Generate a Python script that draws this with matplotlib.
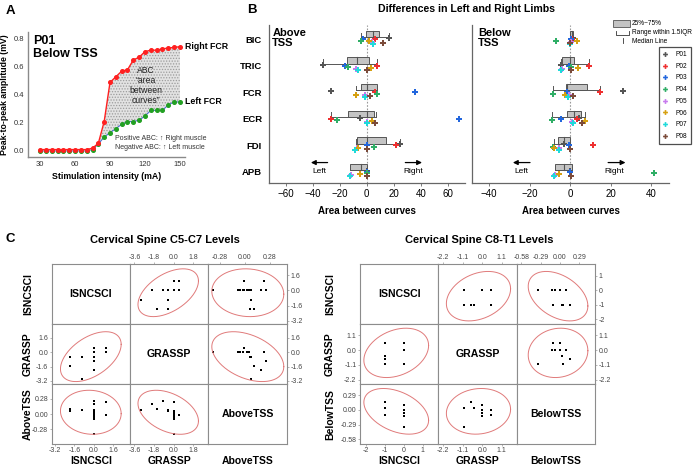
import numpy as np
import matplotlib
matplotlib.use('Agg')
import matplotlib.pyplot as plt
from matplotlib.patches import Rectangle
from matplotlib.lines import Line2D

plt.rcParams['font.family'] = ['Liberation Sans', 'DejaVu Sans']
plt.rcParams['hatch.linewidth'] = 0.6

# ---------------- Panel A data ----------------
stim_ma = [30, 35, 40, 45, 50, 55, 60, 65, 70, 75, 80, 85, 90, 95, 100, 105,
           110, 115, 120, 125, 130, 135, 140, 145, 150]
right_fcr = [0.01, 0.01, 0.01, 0.01, 0.01, 0.01, 0.01, 0.01, 0.01, 0.02, 0.055,
             0.21, 0.49, 0.53, 0.57, 0.58, 0.65, 0.67, 0.71, 0.72, 0.72, 0.73,
             0.735, 0.74, 0.745]
left_fcr = [0.0, 0.0, 0.0, 0.0, 0.0, 0.0, 0.0, 0.0, 0.0, 0.01, 0.05, 0.10, 0.13,
            0.16, 0.19, 0.21, 0.21, 0.22, 0.25, 0.29, 0.29, 0.29, 0.33, 0.35, 0.35]

# ---------------- Panel B data ----------------
muscles = ['BIC', 'TRIC', 'FCR', 'ECR', 'FDI', 'APB']
participants = ['P01', 'P02', 'P03', 'P04', 'P05', 'P06', 'P07', 'P08']
# values per muscle, ordered P01..P08
above_BIC = [16.8, 6.4, -2.5, -4.5, 3.7, 1.5, 4.4, 11.8]
above_TRIC = [-32.3, 7.9, -16.3, -14.3, -7.9, 3.0, -6.4, 0.0]
above_FCR = [-26.4, 6.4, 35.8, 7.4, -1.0, -7.7, -1.0, 2.2]
above_ECR = [-4.9, -26.4, 68.4, -22.0, 0.0, 4.0, 0.0, 6.2]
above_FDI = [24.4, 21.7, 0.5, 5.7, -6.9, -6.2, -8.4, 0.0]
above_APB = [0.0, 0.0, 0.5, 0.0, -11.9, -4.9, -12.3, 0.5]
below_BIC = [1.2, 0.8, 0.3, -7.1, 0.4, 3.6, 0.1, 0.0]
below_TRIC = [-4.6, 9.2, -0.7, 0.3, -3.8, 3.8, -4.4, 0.2]
below_FCR = [25.9, 14.8, -1.6, -8.5, -0.7, -2.3, -1.0, 1.3]
below_ECR = [4.6, 3.3, -4.6, -8.9, 1.0, 7.6, 1.5, 5.7]
below_FDI = [-2.8, 11.3, -0.7, -8.2, -5.3, -8.0, -5.3, 0.0]
below_APB = [0.0, 0.0, 0.0, 41.5, -7.6, -5.6, -7.7, 0.3]
# box statistics (BIC..APB)
above_q1 = [-0.5, -15.0, -4.2, -13.6, -6.9, -12.3]
above_med = [4.5, -7.0, 0.5, 0.5, 0.5, -4.4]
above_q3 = [9.4, 1.7, 7.4, 5.7, 14.0, 0.5]
above_wlo = [-4.5, -32.3, -7.7, -26.4, -7.9, -12.3]
above_whi = [16.8, 7.9, 7.4, 6.7, 24.4, 0.5]
below_q1 = [0.0, -4.1, -2.0, -1.6, -6.2, -7.4]
below_med = [0.7, 0.0, -1.3, 2.1, -2.8, -3.0]
below_q3 = [1.6, 2.1, 8.4, 5.4, 0.0, 0.8]
below_wlo = [0.0, -4.6, -8.5, -8.9, -8.0, -7.6]
below_whi = [1.6, 9.2, 14.8, 7.6, 0.0, 0.8]

# ---------------- Panel C data ----------------
c57_names = ['ISNCSCI', 'GRASSP', 'AboveTSS']
c57_isncsci = [0, 0, 0, 0, 0, 0, 1, 1, 0, -2, -2, -1, 0, 0, 0, -1]
c57_grassp = [0, 0, 0, 0, 0, 0, 0, 0.5, 0.5, -0.5, -1.5, -3, -2, -1, -0.5, -0.5]
c57_above = [-0.36, -0.08, -0.05, -0.02, 0.03, 0.05, 0.22, -0.01, -0.01, 0.06,
             0.10, 0.07, 0.18, 0.24, 0.07, 0.07]
c8t1_names = ['ISNCSCI', 'GRASSP', 'BelowTSS']
c8t1_isncsci = [-1, -1, -1, -1, 0, 0, 0, 0, 0, 0]
c8t1_grassp = [-0.65, -0.45, 0.5, -1.0, 0.5, -1.0, 0.0, 0.0, 0.0, 0.0]
c8t1_below = [0.155, 0.03, -0.1, 0.044, 0.0, -0.33, 0.09, -0.07, -0.116, 0.0]

c57_xticks = [[-3.2, -1.6, 0.0, 1.6], [-3.6, -1.8, 0.0, 1.8], [-0.28, 0.0, 0.28]]
c57_xticklabels = [['-3.2', '-1.6', '0.0', '1.6'], ['-3.6', '-1.8', '0.0', '1.8'],
                   ['-0.28', '0.00', '0.28']]
c57_yticks = [[1.6, 0.0, -1.6, -3.2], [1.6, 0.0, -1.6, -3.2], [0.28, 0.0, -0.28]]
c57_yticklabels = [['1.6', '0.0', '-1.6', '-3.2'], ['1.6', '0.0', '-1.6', '-3.2'],
                   ['0.28', '0.00', '-0.28']]
c8t1_xticks = [[-2, -1, 0, 1], [-2.2, -1.1, 0.0, 1.1], [-0.58, -0.29, 0.0, 0.29]]
c8t1_xticklabels = [['-2', '-1', '0', '1'], ['-2.2', '-1.1', '0.0', '1.1'],
                    ['-0.58', '-0.29', '0.00', '0.29']]
c8t1_yticks = [[1, 0, -1, -2], [1.1, 0.0, -1.1, -2.2], [0.29, 0.0, -0.29, -0.58]]
c8t1_yticklabels = [['1', '0', '-1', '-2'], ['1.1', '0.0', '-1.1', '-2.2'],
                    ['0.29', '0.00', '-0.29', '-0.58']]

# ---------------- styles ----------------
p_colors = ['#555555', '#ee3030', '#2266dd', '#2fae66', '#c87bee', '#d6a010',
            '#1fdada', '#7b4b3a']
p_offsets = [-0.04, 0.0, 0.0, 0.06, 0.11, 0.09, 0.17, 0.15]

W, H = 700, 467
fig = plt.figure(figsize=(7, 4.67), dpi=100)


def px_axes(l, t, r, b):
    return fig.add_axes([l / W, 1 - b / H, (r - l) / W, (b - t) / H])


# ================= Panel A =================
axA = px_axes(28, 32, 185, 157)
x = np.array(stim_ma)
yr = np.array(right_fcr)
yl = np.array(left_fcr)
axA.fill_between(x, yl, yr, where=x >= 78, interpolate=True, facecolor='#e2e2e2',
                 edgecolor='#9c9c9c', hatch='......', linewidth=0, zorder=1)
axA.plot(x, yl, '-', color='#4a70d0', lw=0.8, zorder=2)
axA.plot(x, yl, 'o', color='#22a022', ms=2.6, zorder=3)
axA.plot(x, yr, '-o', color='#ff2020', lw=1.0, ms=2.6, zorder=4)
axA.set_xlim(19.7, 154.3)
axA.set_ylim(-0.043, 0.85)
axA.set_xticks([30, 60, 90, 120, 150])
axA.set_yticks([0.0, 0.2, 0.4, 0.6, 0.8])
axA.set_yticklabels(['0.0', '0.2', '0.4', '0.6', '0.8'])
axA.tick_params(labelsize=5.5, length=0, pad=3, labelcolor='#333333')
for s in ['top', 'right']:
    axA.spines[s].set_visible(False)
for s in ['left', 'bottom']:
    axA.spines[s].set_color('#8a8a8a')
    axA.spines[s].set_linewidth(1.0)
axA.set_xlabel('Stimulation intensity (mA)', fontsize=6.3, fontweight='bold', labelpad=3)
axA.set_ylabel('Peak-to-peak amplitude (mV)', fontsize=6.3, fontweight='bold', labelpad=3)
axA.text(0.03, 0.98, 'P01\nBelow TSS', transform=axA.transAxes, ha='left', va='top',
         fontsize=9, fontweight='bold', linespacing=1.15)
axA.text(x[-1] + 4, yr[-1], 'Right FCR', fontsize=6.3, fontweight='bold',
         ha='left', va='center', clip_on=False)
axA.text(x[-1] + 4, yl[-1], 'Left FCR', fontsize=6.3, fontweight='bold',
         ha='left', va='center', clip_on=False)
axA.text(121, 0.47, 'ABC\n\u201carea\nbetween\ncurves\u201d', fontsize=6.2, ha='center',
         va='center', linespacing=1.15, color='#222222')
axA.text(94, 0.055, 'Positive ABC: \u2191 Right muscle\nNegative ABC: \u2191 Left muscle',
         fontsize=5.0, ha='left', va='center', color='#333333', linespacing=1.4)

# ================= Panel B =================
def draw_b(ax, vals, q1, med, q3, wlo, whi):
    ax.axvline(0, color='#999999', lw=0.8, ls=(0, (1.5, 1.5)), zorder=0)
    for i in range(len(muscles)):
        top, bot = i - 0.31, i - 0.065
        ax.add_patch(Rectangle((q1[i], top), q3[i] - q1[i], bot - top, facecolor='#c4c4c4',
                               edgecolor='#555555', lw=0.7, zorder=2))
        ax.plot([med[i], med[i]], [top, bot], color='#555555', lw=0.8, zorder=3)
        ax.plot([wlo[i], whi[i]], [bot, bot], color='#555555', lw=0.7, zorder=1)
        for wv in (wlo[i], whi[i]):
            ax.plot([wv, wv], [bot, bot - 0.17], color='#555555', lw=0.7, zorder=1)
        for p in range(len(participants)):
            ax.plot(vals[i][p], i + p_offsets[p], 'P', color=p_colors[p], ms=4.8,
                    mew=0, zorder=4)
    ax.set_ylim(5.42, -0.53)
    for s in ['top', 'right']:
        ax.spines[s].set_visible(False)
    for s in ['left', 'bottom']:
        ax.spines[s].set_color('#666666')
        ax.spines[s].set_linewidth(0.9)
    ax.tick_params(axis='x', labelsize=7, length=2, width=0.6, color='#666666', pad=2)
    ax.set_xlabel('Area between curves', fontsize=7, fontweight='bold', labelpad=5)


axB1 = px_axes(269, 25, 465, 183)
draw_b(axB1, [above_BIC, above_TRIC, above_FCR, above_ECR, above_FDI, above_APB],
       above_q1, above_med, above_q3, above_wlo, above_whi)
axB1.set_xlim(-72.5, 72.8)
axB1.set_xticks([-60, -40, -20, 0, 20, 40, 60])
axB1.set_yticks(range(len(muscles)))
axB1.set_yticklabels(muscles, fontsize=6.8, fontweight='bold')
axB1.tick_params(axis='y', length=0, pad=5)
axB1.text(-70, -0.05, 'Above\nTSS', fontsize=8, fontweight='bold', ha='left', va='center',
          linespacing=1.05)
axB1.annotate('', xy=(-43.5, 4.65), xytext=(-27, 4.65),
              arrowprops=dict(arrowstyle='-|>', color='black', lw=0.9, mutation_scale=7))
axB1.text(-35, 5.0, 'Left', fontsize=6, ha='center', va='center')
axB1.annotate('', xy=(43, 4.65), xytext=(26.5, 4.65),
              arrowprops=dict(arrowstyle='-|>', color='black', lw=0.9, mutation_scale=7))
axB1.text(34.7, 5.0, 'Right', fontsize=6, ha='center', va='center')

axB2 = px_axes(472, 25, 669, 183)
draw_b(axB2, [below_BIC, below_TRIC, below_FCR, below_ECR, below_FDI, below_APB],
       below_q1, below_med, below_q3, below_wlo, below_whi)
axB2.set_xlim(-48.4, 48.8)
axB2.set_xticks([-40, -20, 0, 20, 40])
axB2.set_yticks([])
axB2.text(-45.5, -0.05, 'Below\nTSS', fontsize=8, fontweight='bold', ha='left', va='center',
          linespacing=1.05)
axB2.annotate('', xy=(-29.6, 4.65), xytext=(-18.4, 4.65),
              arrowprops=dict(arrowstyle='-|>', color='black', lw=0.9, mutation_scale=7))
axB2.text(-23.8, 5.0, 'Left', fontsize=6, ha='center', va='center')
axB2.annotate('', xy=(28.7, 4.65), xytext=(17.4, 4.65),
              arrowprops=dict(arrowstyle='-|>', color='black', lw=0.9, mutation_scale=7))
axB2.text(22.0, 5.0, 'Right', fontsize=6, ha='center', va='center')

handles = [Line2D([], [], marker='P', ls='none', color=c, ms=3.5, mew=0) for c in p_colors]
leg = axB2.legend(handles, participants, loc='upper left',
                  bbox_to_anchor=(658.5 / W, 1 - 47.5 / H), bbox_transform=fig.transFigure,
                  fontsize=4.7, frameon=True, fancybox=False, edgecolor='#222222',
                  handlelength=0.9, handletextpad=1.2, labelspacing=0.72, borderpad=0.55,
                  borderaxespad=0)
leg.get_frame().set_linewidth(0.9)


# ================= Panel C =================
def ellipse_pts(xv, yv, n=240):
    # 95% bivariate-normal prediction ellipse
    xv = np.asarray(xv, float)
    yv = np.asarray(yv, float)
    m = len(xv)
    d2 = m - 2
    fq = d2 / 2.0 * (0.05 ** (-2.0 / d2) - 1.0)
    c = np.sqrt(2.0 * (m - 1) * (m + 1) / (m * d2) * fq)
    L = np.linalg.cholesky(np.cov(xv, yv))
    t = np.linspace(0, 2 * np.pi, n)
    circ = np.vstack([np.cos(t), np.sin(t)]) * c
    pts = L @ circ
    return pts[0] + xv.mean(), pts[1] + yv.mean()


def scatter_matrix(ex, ey, names, data, xl, yl, xt, xtl, yt, ytl):
    for i in range(3):
        for j in range(3):
            ax = px_axes(ex[j], ey[i], ex[j + 1], ey[i + 1])
            ax.set_xlim(xl[j])
            ax.set_ylim(yl[i])
            ax.set_xticks(xt[j])
            ax.set_xticklabels(xtl[j])
            ax.set_yticks(yt[i])
            ax.set_yticklabels(ytl[i])
            for s in ax.spines.values():
                s.set_color('#8c8c8c')
                s.set_linewidth(0.8)
            tp, bt = (i == 0 and j >= 1), (i == 2 and j <= 1)
            lf, rt = (j == 0 and i >= 1), (j == 2 and i <= 1)
            ax.tick_params(top=tp, labeltop=tp, bottom=bt, labelbottom=bt,
                           left=lf, labelleft=lf, right=rt, labelright=rt,
                           length=1.5, width=0.5, color='#999999', labelsize=5,
                           labelcolor='#444444', pad=1)
            if i == j:
                ax.text(0.5, 0.5, names[i], transform=ax.transAxes, ha='center',
                        va='center', fontsize=7.6, fontweight='bold')
            else:
                ax.plot(data[j], data[i], 's', color='black', ms=1.6, mew=0)
                exs, eys = ellipse_pts(data[j], data[i])
                ax.plot(exs, eys, color='#e07a7a', lw=0.7)


scatter_matrix([51.7, 130.3, 208.3, 287.3], [264.3, 324.3, 384.3, 443.5], c57_names,
               [c57_isncsci, c57_grassp, c57_above],
               [(-3.47, 3.0), (-3.97, 3.17), (-0.41, 0.48)],
               [(-3.55, 2.72), (-3.57, 3.09), (-0.54, 0.55)],
               c57_xticks, c57_xticklabels, c57_yticks, c57_yticklabels)
scatter_matrix([360, 438.3, 516.7, 595], [264.3, 324.3, 384.3, 444], c8t1_names,
               [c8t1_isncsci, c8t1_grassp, c8t1_below],
               [(-2.32, 1.83), (-2.48, 1.95), (-0.65, 0.525)],
               [(-2.35, 1.81), (-2.52, 1.89), (-0.67, 0.50)],
               c8t1_xticks, c8t1_xticklabels, c8t1_yticks, c8t1_yticklabels)

# ================= overlay annotations (pixel coordinates) =================
ov = fig.add_axes([0, 0, 1, 1])
ov.set_xlim(0, W)
ov.set_ylim(H, 0)
ov.axis('off')
ov.text(10, 11, 'A', fontsize=9.5, fontweight='bold', ha='center', va='center')
ov.text(252, 10, 'B', fontsize=9.5, fontweight='bold', ha='center', va='center')
ov.text(10, 239, 'C', fontsize=9.5, fontweight='bold', ha='center', va='center')
ov.text(467, 9.5, 'Differences in Left and Right Limbs', fontsize=7.6, fontweight='bold',
        ha='center', va='center')
ov.text(165, 240, 'Cervical Spine C5-C7 Levels', fontsize=8, fontweight='bold',
        ha='center', va='center')
ov.text(479, 240, 'Cervical Spine C8-T1 Levels', fontsize=8, fontweight='bold',
        ha='center', va='center')
# box legend
ov.add_patch(Rectangle((612.7, 20), 17.3, 6.7, facecolor='#c4c4c4', edgecolor='#555555', lw=0.6))
ov.text(632, 23.3, '25%~75%', fontsize=4.7, ha='left', va='center')
ov.plot([615.7, 615.7, 629.3, 629.3], [30.7, 34.7, 34.7, 30.7], color='#333333', lw=0.6)
ov.text(632, 33.0, 'Range within 1.5IQR', fontsize=4.7, ha='left', va='center')
ov.plot([622.7, 622.7], [37.5, 43.3], color='#333333', lw=0.6)
ov.text(632, 41.5, 'Median Line', fontsize=4.7, ha='left', va='center')
# matrix axis labels
for k, nm in enumerate(c57_names):
    cy = [294.3, 354.3, 413.9][k]
    cx = [91, 169.3, 247.8][k]
    ov.text(28, cy, nm, rotation=90, fontsize=7.5, fontweight='bold', ha='center', va='center')
    ov.text(cx, 460.5, nm, fontsize=7.5, fontweight='bold', ha='center', va='center')
for k, nm in enumerate(c8t1_names):
    cy = [294.3, 354.3, 414.2][k]
    cx = [399.2, 477.5, 555.9][k]
    ov.text(330, cy, nm, rotation=90, fontsize=7.5, fontweight='bold', ha='center', va='center')
    ov.text(cx, 460.5, nm, fontsize=7.5, fontweight='bold', ha='center', va='center')

fig.savefig('out.png', dpi=100)
